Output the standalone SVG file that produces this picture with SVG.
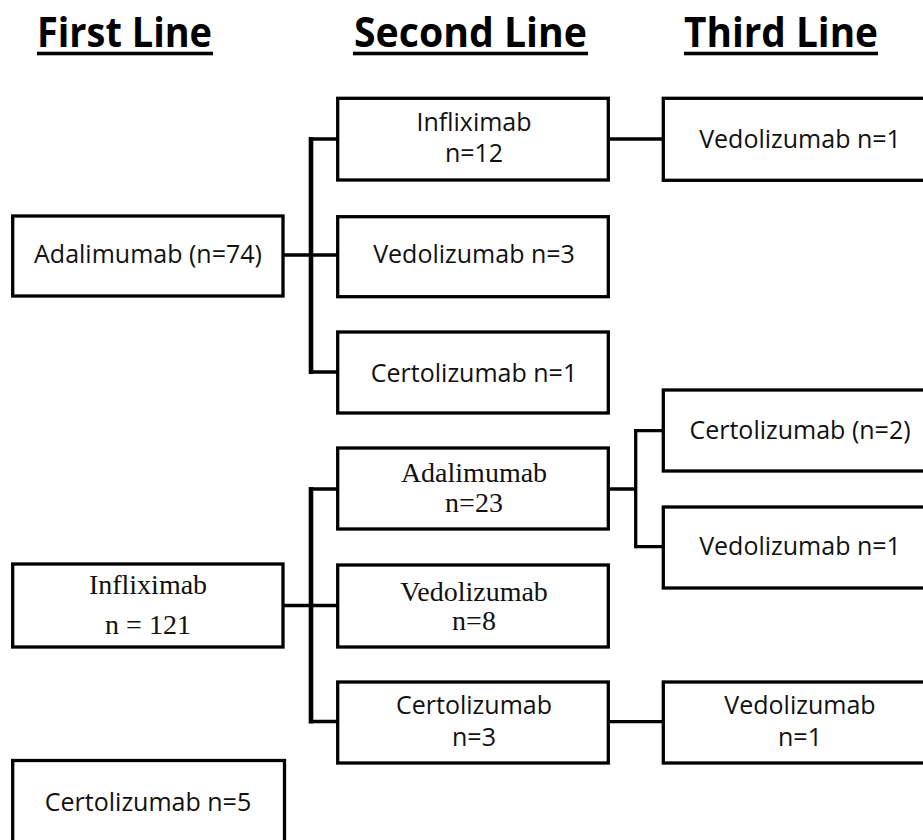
<svg xmlns="http://www.w3.org/2000/svg" width="923" height="840" viewBox="0 0 923 840">
<style>
.box{fill:#fff;stroke:#000;stroke-width:3.3}
.s{font-family:"Open Sans","Liberation Sans",sans-serif;font-size:25px;fill:#111;text-anchor:middle}
.r{font-family:"Liberation Serif","Times New Roman",serif;font-size:28px;fill:#111;text-anchor:middle}
.h{font-family:"Open Sans","Liberation Sans",sans-serif;font-weight:bold;font-size:41px;fill:#000}
.c{stroke:#000;stroke-width:3.3;fill:none}
.v{stroke:#000;stroke-width:4.6;fill:none}
</style>
<rect width="923" height="840" fill="#fff"/>
<g id="headers">
<text class="h" x="37" y="47" textLength="175" lengthAdjust="spacingAndGlyphs">First Line</text>
<rect x="37" y="51.7" width="176" height="3.6"/>
<text class="h" x="354" y="47" textLength="233" lengthAdjust="spacingAndGlyphs">Second Line</text>
<rect x="353" y="51.7" width="235" height="3.6"/>
<text class="h" x="684" y="47" textLength="194" lengthAdjust="spacingAndGlyphs">Third Line</text>
<rect x="684" y="51.7" width="194" height="3.6"/>
</g>
<g id="connectors">
<path class="c" d="M283 255 H338 M311 139 H338 M311 372 H338"/>
<path class="v" d="M311 137 V374"/>
<path class="c" d="M608 139 H664"/>
<path class="c" d="M283 605.5 H338 M311 489 H338 M311 721.5 H338"/>
<path class="v" d="M311 487 V723.5"/>
<path class="c" d="M608 489 H636 M636 430.7 H664 M636 546.7 H664"/>
<path class="c" d="M635.7 429 V548.3"/>
<path class="c" d="M608 721.7 H664"/>
</g>
<g id="adalimumab74"><rect class="box" x="12.7" y="216" width="270.3" height="80"/><text class="s" x="148" y="263">Adalimumab (n=74)</text></g>
<g id="infliximab121"><rect class="box" x="12.7" y="564" width="270.3" height="83"/><text class="r" x="148" y="594">Infliximab</text><text class="r" x="148" y="634">n = 121</text></g>
<g id="certolizumab5"><rect class="box" x="12.7" y="760.5" width="271.8" height="90"/><text class="s" x="148" y="811">Certolizumab n=5</text></g>
<g id="infliximab12"><rect class="box" x="337.7" y="98.3" width="270.6" height="81.7"/><text class="s" x="474" y="131">Infliximab</text><text class="s" x="474" y="162">n=12</text></g>
<g id="vedolizumab3"><rect class="box" x="337.7" y="216.7" width="270.6" height="80"/><text class="s" x="474" y="263">Vedolizumab n=3</text></g>
<g id="certolizumab1"><rect class="box" x="337.7" y="332" width="270.6" height="81"/><text class="s" x="474" y="382">Certolizumab n=1</text></g>
<g id="adalimumab23"><rect class="box" x="337.7" y="448" width="270.6" height="81"/><text class="r" x="474" y="482">Adalimumab</text><text class="r" x="474" y="512">n=23</text></g>
<g id="vedolizumab8"><rect class="box" x="337.7" y="565" width="270.6" height="82"/><text class="r" x="474" y="601">Vedolizumab</text><text class="r" x="474" y="630">n=8</text></g>
<g id="certolizumab3"><rect class="box" x="337.7" y="682" width="270.6" height="81"/><text class="s" x="474" y="714">Certolizumab</text><text class="s" x="474" y="746">n=3</text></g>
<g id="vedolizumab1a"><rect class="box" x="663.3" y="98.3" width="280" height="82"/><text class="s" x="800" y="148">Vedolizumab n=1</text></g>
<g id="certolizumab2"><rect class="box" x="663.3" y="390" width="280" height="81"/><text class="s" x="800" y="439">Certolizumab (n=2)</text></g>
<g id="vedolizumab1b"><rect class="box" x="663.3" y="507" width="280" height="81"/><text class="s" x="800" y="555">Vedolizumab n=1</text></g>
<g id="vedolizumab1c"><rect class="box" x="663.3" y="682" width="280" height="81"/><text class="s" x="800" y="714">Vedolizumab</text><text class="s" x="800" y="746">n=1</text></g>
</svg>
